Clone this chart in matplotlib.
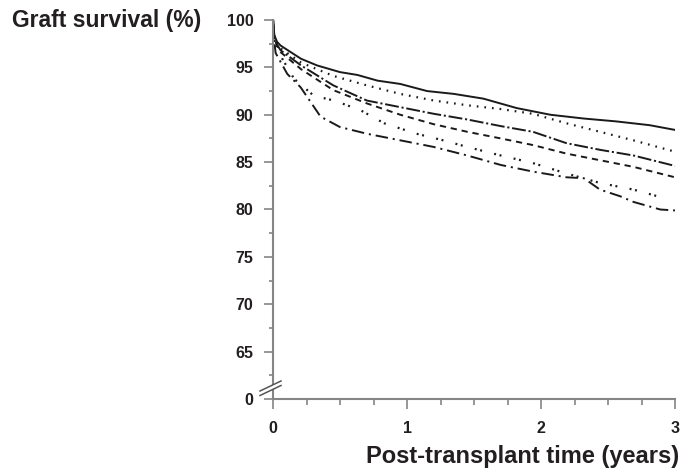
import matplotlib
matplotlib.use("Agg")
import matplotlib.pyplot as plt
from matplotlib.patches import Polygon

plt.rcParams['font.family'] = ['Liberation Sans', 'DejaVu Sans']
plt.rcParams['lines.scale_dashes'] = False

# ---- data (years, graft survival %) ----
t_solid = [0, 0.01, 0.03, 0.057, 0.21, 0.33, 0.50, 0.63, 0.78, 0.95, 1.15, 1.35, 1.57, 1.82, 2.07, 2.32, 2.56, 2.81, 3.0]
v_solid = [100, 98.4, 97.7, 97.3, 95.9, 95.2, 94.5, 94.2, 93.6, 93.25, 92.5, 92.2, 91.7, 90.7, 90.0, 89.6, 89.3, 88.9, 88.4]

t_dot = [0, 0.01, 0.03, 0.057, 0.21, 0.45, 0.70, 0.95, 1.20, 1.45, 1.70, 1.94, 2.19, 2.44, 2.69, 3.0]
v_dot = [100, 98.3, 97.5, 97.0, 95.5, 94.1, 93.1, 92.2, 91.5, 91.0, 90.6, 90.1, 89.1, 88.2, 87.3, 86.1]

t_ldash = [0, 0.01, 0.03, 0.057, 0.21, 0.45, 0.70, 0.95, 1.20, 1.45, 1.70, 1.94, 2.19, 2.44, 2.69, 3.0]
v_ldash = [100, 98.2, 97.4, 96.8, 95.2, 93.1, 91.5, 90.8, 90.1, 89.5, 88.8, 88.2, 87.0, 86.3, 85.7, 84.6]

t_dash = [0, 0.01, 0.03, 0.057, 0.21, 0.45, 0.70, 0.95, 1.20, 1.45, 1.70, 1.94, 2.19, 2.44, 2.69, 3.0]
v_dash = [100, 98.1, 97.3, 96.6, 94.8, 92.6, 91.2, 90.0, 89.0, 88.2, 87.5, 86.8, 85.9, 85.2, 84.5, 83.4]

t_ddot = [0, 0.01, 0.03, 0.057, 0.157, 0.305, 0.455, 0.65, 0.83, 1.07, 1.27, 1.45, 1.70, 1.94, 2.19, 2.44, 2.69, 2.92]
v_ddot = [100, 97.9, 96.9, 96.2, 93.8, 92.0, 91.5, 90.5, 89.1, 88.0, 87.3, 86.6, 85.7, 84.9, 83.8, 82.8, 82.1, 81.2]

t_ddash = [0, 0.01, 0.02, 0.107, 0.206, 0.355, 0.50, 0.70, 0.95, 1.20, 1.45, 1.70, 1.94, 2.19, 2.32, 2.44, 2.59, 2.69, 2.89, 3.0]
v_ddash = [100, 97.6, 96.5, 94.3, 92.9, 89.8, 88.7, 88.0, 87.3, 86.6, 85.7, 84.7, 84.0, 83.4, 83.3, 82.1, 81.4, 80.8, 80.0, 79.9]

y_ticks = [60, 65, 70, 75, 80, 85, 90, 95, 100]
y_ticklabels = ['0', '65', '70', '75', '80', '85', '90', '95', '100']
x_ticks = [0, 1, 2, 3]
x_ticklabels = ['0', '1', '2', '3']

W, H = 683, 470
fig = plt.figure(figsize=(W / 100, H / 100), dpi=100)
ax = fig.add_axes([273 / W, 71 / H, 402 / W, 379 / H])

lc = '#1a1a1a'
lw = 1.4
ax.plot(t_solid, v_solid, color=lc, lw=lw, linestyle='-')
ax.plot(t_dot, v_dot, color=lc, lw=lw + 0.2, linestyle=(0, (1.2, 4.3)))
ax.plot(t_ldash, v_ldash, color=lc, lw=lw, linestyle=(0, (10, 2, 1.5, 2)))
ax.plot(t_dash, v_dash, color=lc, lw=lw, linestyle=(0, (4.5, 3.5)))
ax.plot(t_ddot, v_ddot, color=lc, lw=lw + 0.2, linestyle=(0, (1.4, 2.6, 1.4, 9)))
ax.plot(t_ddash, v_ddash, color=lc, lw=lw, linestyle=(0, (9, 3.5, 1.5, 3.5)))

ax.set_xlim(0, 3)
ax.set_ylim(60, 100)
ax.set_yticks(y_ticks)
ax.set_yticklabels(y_ticklabels)
ax.set_yticks([62.5 + 5 * i for i in range(8)], minor=True)
ax.set_xticks(x_ticks)
ax.set_xticklabels(x_ticklabels)
ax.set_xticks([0.25 * i for i in range(13)], minor=True)

sc = '#858585'
for s in ['top', 'right']:
    ax.spines[s].set_visible(False)
for s in ['left', 'bottom']:
    ax.spines[s].set_color(sc)
    ax.spines[s].set_linewidth(1.5)

ax.tick_params(axis='y', which='major', length=6.5, width=1.2, color=sc, pad=7.5,
               labelsize=11.5, labelcolor='#231f20')
ax.tick_params(axis='y', which='minor', length=3, width=1.2, color=sc)
ax.tick_params(axis='x', which='major', length=7, width=1.2, color=sc, pad=8.5,
               labelsize=11.5, labelcolor='#231f20')
ax.tick_params(axis='x', which='minor', length=4.3, width=1.2, color=sc)
for lab in ax.get_xticklabels() + ax.get_yticklabels():
    lab.set_fontweight('bold')

fig.text(12 / W, 1 - 20 / H, 'Graft survival (%)', ha='left', va='center',
         fontsize=16.5, fontweight='bold', color='#231f20')
fig.text(679 / W, 1 - 457 / H, 'Post-transplant time (years)', ha='right', va='center',
         fontsize=17, fontweight='bold', color='#231f20')

# axis break marker
def fp(x, y):
    return (x / W, 1 - y / H)

gap = Polygon([fp(261, 391), fp(279, 382), fp(279, 386), fp(261, 395)], closed=True,
              transform=fig.transFigure, facecolor='white', edgecolor='none', zorder=5)
fig.add_artist(gap)
for (x0, y0, x1, y1) in [(260, 391, 281, 381), (260, 395.5, 281, 385.5)]:
    fig.add_artist(plt.Line2D([x0 / W, x1 / W], [1 - y0 / H, 1 - y1 / H],
                              transform=fig.transFigure, color='#555555', lw=1.1, zorder=6))

fig.savefig('out.png', dpi=100)
